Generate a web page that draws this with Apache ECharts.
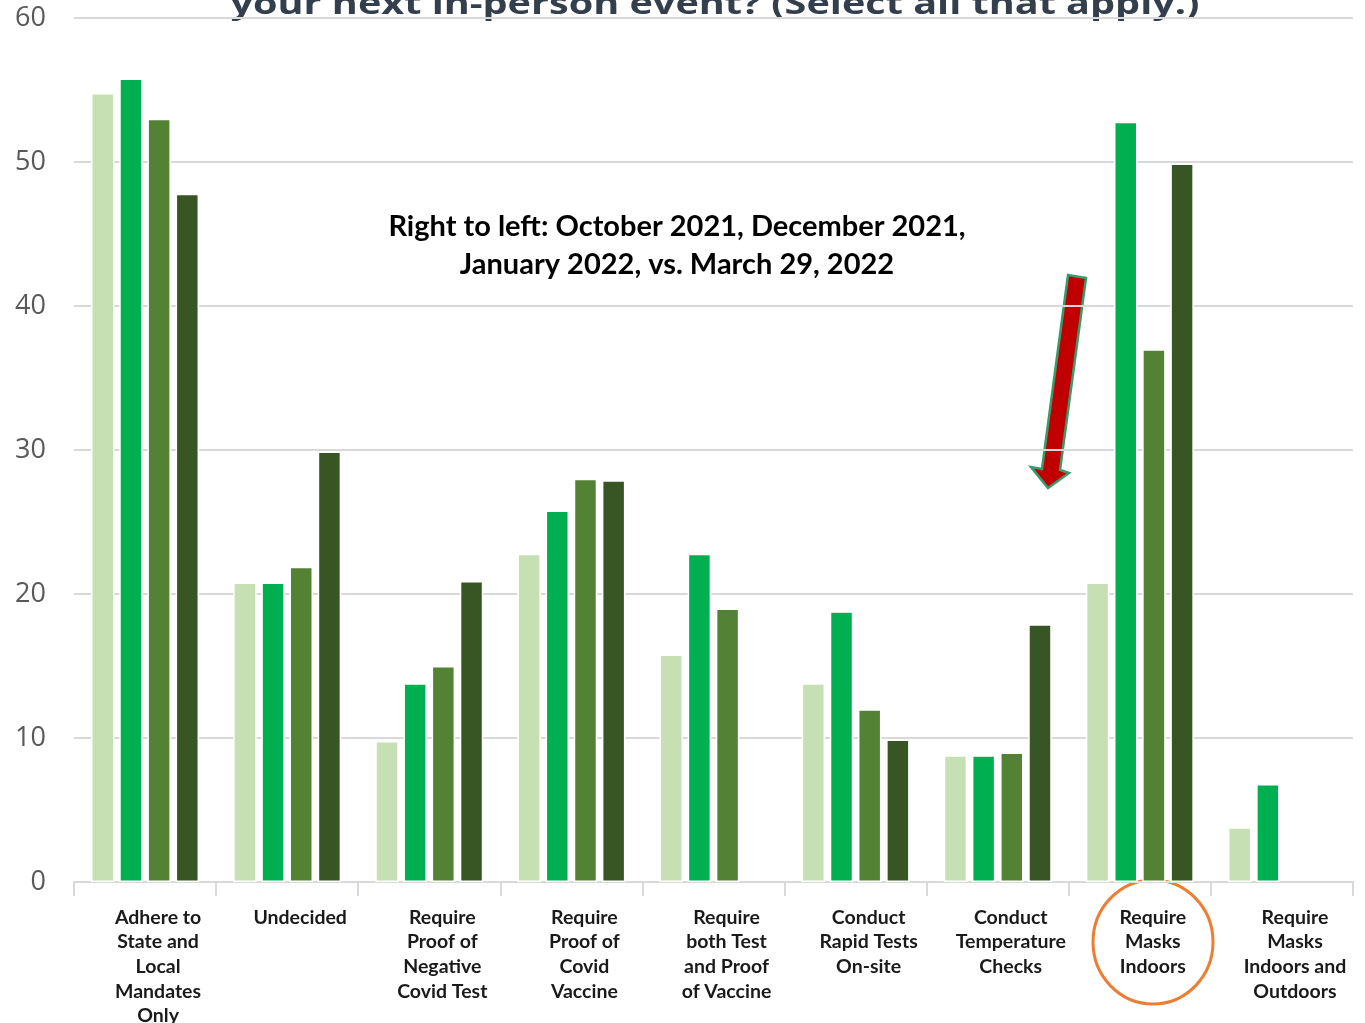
<!DOCTYPE html>
<html>
<head>
<meta charset="utf-8">
<script src="https://cdn.jsdelivr.net/npm/echarts@6/dist/echarts.min.js"></script>
<style>
  html, body { margin: 0; padding: 0; background: #fff; }
  #chart { width: 1365px; height: 1023px; }
</style>
</head>
<body>
<div id="chart"></div>
<script>
  // categories on the x axis
  var categories = [
    'Adhere to\nState and\nLocal\nMandates\nOnly',
    'Undecided',
    'Require\nProof of\nNegative\nCovid Test',
    'Require\nProof of\nCovid\nVaccine',
    'Require\nboth Test\nand Proof\nof Vaccine',
    'Conduct\nRapid Tests\nOn-site',
    'Conduct\nTemperature\nChecks',
    'Require\nMasks\nIndoors',
    'Require\nMasks\nIndoors and\nOutdoors'
  ];
  // series, left to right inside each group
  var seriesNames = ['March 29, 2022', 'January 2022', 'December 2021', 'October 2021'];
  var march2022 = [54.8, 20.8, 9.8, 22.8, 15.8, 13.8, 8.8, 20.8, 3.8];
  var jan2022 = [55.8, 20.8, 13.8, 25.8, 22.8, 18.8, 8.8, 52.8, 6.8];
  var dec2021 = [53, 21.9, 15, 28, 19, 12, 9, 37, null];
  var oct2021 = [47.8, 29.9, 20.9, 27.9, null, 9.9, 17.9, 49.9, null];
  var seriesValues = [march2022, jan2022, dec2021, oct2021];
  var colors = ['#c6e0b4', '#00b050', '#548235', '#375623'];
  var yTicks = [0, 10, 20, 30, 40, 50, 60];

  var chart = echarts.init(document.getElementById('chart'));

  var option = {
    animation: false,
    backgroundColor: '#ffffff',
    grid: { left: 74, right: 12, top: 18, bottom: 141, outerBoundsMode: 'none' },
    xAxis: {
      type: 'category',
      data: categories,
      axisLine: { lineStyle: { color: '#d9d9d9', width: 2 } },
      axisTick: { show: true, length: 14, lineStyle: { color: '#d9d9d9', width: 2 } },
      axisLabel: {
        interval: 0,
        margin: 23,
        padding: [0, 0, 0, 26],
        color: '#1a1a1a',
        fontFamily: 'Lato',
        fontWeight: 'bold',
        fontSize: 19.5,
        lineHeight: 24.7
      }
    },
    yAxis: {
      type: 'value',
      min: yTicks[0],
      max: yTicks[yTicks.length - 1],
      interval: 10,
      axisLine: { show: false },
      axisTick: { show: false },
      axisLabel: {
        margin: 28,
        color: '#595959',
        fontFamily: 'Open Sans',
        fontSize: 27
      },
      splitLine: { lineStyle: { color: '#d9d9d9', width: 2 } }
    },
    series: seriesNames.map(function (name, i) {
      return {
        name: name,
        type: 'bar',
        data: seriesValues[i],
        barGap: '20%',
        barCategoryGap: '24%',
        itemStyle: { color: colors[i], borderColor: '#ffffff', borderWidth: 1.5 }
      };
    }),
    graphic: [
      {
        type: 'text',
        x: 715,
        y: 20,
        scaleX: 1.32,
        style: {
          text: 'your next in-person event? (Select all that apply.)',
          x: 0,
          y: 0,
          align: 'center',
          verticalAlign: 'bottom',
          fill: '#333f4c',
          font: 'bold 30px "Open Sans"'
        }
      },
      {
        type: 'text',
        style: {
          text: 'Right to left: October 2021, December 2021,\nJanuary 2022, vs. March 29, 2022',
          x: 677,
          y: 246,
          align: 'center',
          verticalAlign: 'middle',
          lineHeight: 38,
          fill: '#000000',
          font: 'bold 29px Lato'
        }
      },
      {
        type: 'polygon',
        shape: {
          points: [[1068, 275], [1086, 278], [1060, 470], [1069, 473], [1048, 488], [1031, 467], [1042, 469]]
        },
        style: { fill: '#c00000', stroke: '#3a9a6b', lineWidth: 2.5 }
      },
      {
        type: 'ellipse',
        shape: { cx: 1153, cy: 942, rx: 60, ry: 62 },
        style: { fill: 'none', stroke: '#ed7d31', lineWidth: 3 }
      }
    ]
  };

  chart.setOption(option);
</script>
</body>
</html>
